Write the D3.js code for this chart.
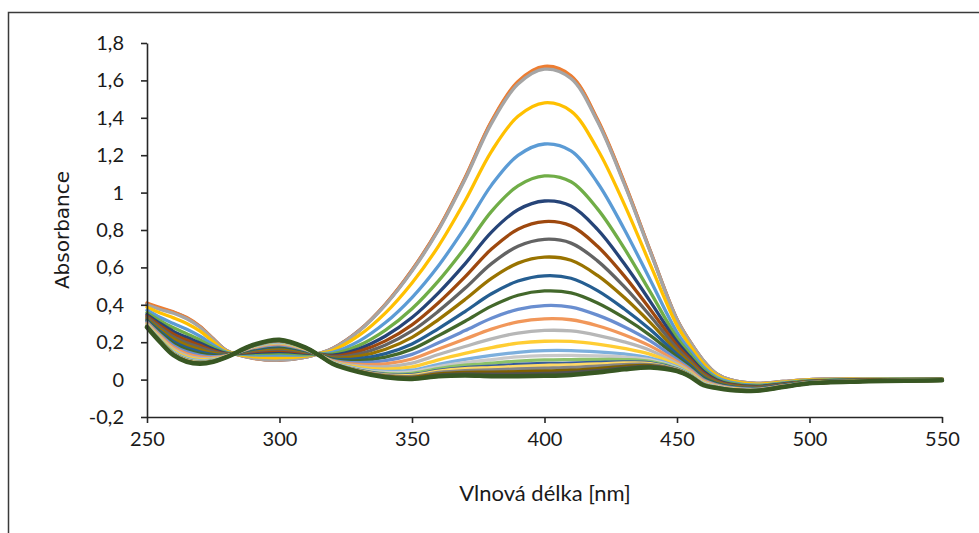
<!DOCTYPE html>
<html><head><meta charset="utf-8">
<script src="https://cdn.jsdelivr.net/npm/d3@7/dist/d3.min.js"></script>
<style>body{margin:0;background:#fff}svg{display:block}</style>
</head><body>
<svg id="chart" width="979" height="533"></svg>
<script>
const wavelengths = [250,255,260,265,270,275,280,290,300,310,315,320,330,340,350,360,370,380,390,400,410,420,430,440,450,455,460,465,470,480,490,500,520,550];
const xTicks = [250,300,350,400,450,500,550];
const yTicks = [-0.2,0,0.2,0.4,0.6,0.8,1,1.2,1.4,1.6,1.8];
const yTickLabels = ["-0,2","0","0,2","0,4","0,6","0,8","1","1,2","1,4","1,6","1,8"];
const xTitle = "Vlnová délka [nm]";
const yTitle = "Absorbance";

const s01 = [0.405,0.38,0.36,0.33,0.283,0.218,0.156,0.115,0.104,0.12,0.14,0.166,0.262,0.403,0.585,0.805,1.076,1.378,1.59,1.668,1.62,1.387,1.056,0.684,0.322,0.201,0.101,0.031,0.0,-0.02,-0.01,0.0,0.005,0.005];
const s02 = [0.41,0.385,0.362,0.332,0.285,0.219,0.155,0.114,0.104,0.12,0.14,0.166,0.262,0.404,0.586,0.808,1.08,1.383,1.595,1.675,1.625,1.392,1.06,0.686,0.323,0.202,0.101,0.031,0.0,-0.02,-0.01,0.0,0.005,0.005];
const s03 = [0.40,0.375,0.355,0.325,0.28,0.215,0.155,0.115,0.105,0.12,0.14,0.165,0.26,0.40,0.58,0.80,1.07,1.37,1.58,1.66,1.61,1.38,1.05,0.68,0.32,0.20,0.10,0.03,0.00,-0.02,-0.01,0.00,0.005,0.005];
const s04 = [0.387,0.356,0.330,0.300,0.259,0.202,0.151,0.123,0.117,0.126,0.139,0.156,0.236,0.357,0.517,0.714,0.955,1.221,1.408,1.480,1.436,1.232,0.941,0.612,0.290,0.180,0.086,0.022,-0.006,-0.024,-0.013,-0.002,0.003,0.004];
const s05 = [0.371,0.332,0.300,0.269,0.232,0.186,0.146,0.132,0.131,0.132,0.138,0.146,0.206,0.305,0.439,0.609,0.814,1.040,1.199,1.260,1.223,1.053,0.807,0.530,0.253,0.155,0.068,0.012,-0.013,-0.030,-0.017,-0.005,0.001,0.003];
const s06 = [0.358,0.314,0.277,0.245,0.212,0.173,0.143,0.139,0.142,0.137,0.137,0.137,0.183,0.265,0.379,0.528,0.705,0.900,1.036,1.089,1.058,0.913,0.704,0.466,0.224,0.136,0.055,0.004,-0.019,-0.034,-0.020,-0.007,0.000,0.002];
const s07 = [0.348,0.300,0.258,0.226,0.196,0.163,0.140,0.145,0.150,0.142,0.136,0.131,0.165,0.233,0.332,0.464,0.619,0.789,0.908,0.955,0.928,0.803,0.622,0.416,0.202,0.120,0.044,-0.002,-0.024,-0.037,-0.023,-0.009,-0.001,0.001];
const s08 = [0.340,0.288,0.243,0.211,0.183,0.155,0.138,0.150,0.157,0.145,0.135,0.125,0.151,0.207,0.293,0.411,0.549,0.698,0.804,0.845,0.822,0.713,0.556,0.374,0.183,0.108,0.035,-0.007,-0.027,-0.040,-0.025,-0.010,-0.003,0.001];
const s09 = [0.333,0.278,0.230,0.197,0.172,0.148,0.136,0.154,0.163,0.148,0.135,0.121,0.138,0.185,0.260,0.366,0.488,0.620,0.713,0.750,0.730,0.635,0.498,0.339,0.167,0.097,0.028,-0.012,-0.031,-0.042,-0.027,-0.011,-0.003,0.000];
const s10 = [0.326,0.268,0.217,0.184,0.161,0.141,0.134,0.158,0.169,0.151,0.134,0.116,0.125,0.162,0.226,0.321,0.428,0.541,0.623,0.655,0.638,0.557,0.440,0.303,0.151,0.087,0.020,-0.016,-0.034,-0.045,-0.028,-0.012,-0.004,0.000];
const s11 = [0.319,0.257,0.203,0.170,0.149,0.134,0.131,0.162,0.176,0.154,0.133,0.111,0.112,0.139,0.191,0.273,0.364,0.459,0.527,0.555,0.542,0.476,0.379,0.266,0.135,0.075,0.012,-0.021,-0.037,-0.047,-0.030,-0.014,-0.005,-0.001];
const s12 = [0.313,0.249,0.192,0.159,0.139,0.128,0.130,0.166,0.181,0.156,0.133,0.107,0.101,0.120,0.163,0.235,0.312,0.393,0.451,0.474,0.464,0.410,0.331,0.235,0.121,0.066,0.006,-0.024,-0.040,-0.049,-0.032,-0.014,-0.006,-0.002];
const s13 = [0.308,0.240,0.182,0.148,0.130,0.123,0.128,0.169,0.186,0.159,0.132,0.103,0.090,0.101,0.135,0.197,0.262,0.328,0.376,0.396,0.388,0.345,0.283,0.206,0.108,0.057,0.000,-0.028,-0.042,-0.051,-0.033,-0.015,-0.007,-0.002];
const s14 = [0.302,0.233,0.172,0.138,0.121,0.117,0.127,0.172,0.191,0.161,0.132,0.100,0.081,0.084,0.110,0.164,0.217,0.270,0.309,0.325,0.320,0.288,0.240,0.179,0.096,0.049,-0.006,-0.031,-0.045,-0.053,-0.034,-0.016,-0.007,-0.002];
const s15 = [0.298,0.226,0.163,0.129,0.114,0.113,0.125,0.175,0.195,0.163,0.132,0.097,0.073,0.069,0.088,0.134,0.177,0.218,0.249,0.263,0.260,0.237,0.202,0.156,0.086,0.042,-0.011,-0.034,-0.047,-0.054,-0.036,-0.017,-0.008,-0.003];
const s16 = [0.294,0.220,0.155,0.121,0.107,0.109,0.124,0.177,0.198,0.164,0.131,0.094,0.065,0.056,0.068,0.106,0.140,0.171,0.195,0.205,0.204,0.190,0.167,0.135,0.076,0.036,-0.015,-0.037,-0.049,-0.056,-0.037,-0.018,-0.008,-0.003];
const s17 = [0.290,0.214,0.149,0.114,0.101,0.105,0.123,0.179,0.201,0.166,0.131,0.092,0.058,0.044,0.050,0.082,0.108,0.129,0.146,0.155,0.155,0.148,0.137,0.115,0.068,0.030,-0.019,-0.039,-0.051,-0.057,-0.038,-0.018,-0.009,-0.003];
const s18 = [0.288,0.212,0.145,0.110,0.098,0.103,0.122,0.180,0.203,0.167,0.131,0.090,0.055,0.038,0.041,0.070,0.091,0.107,0.121,0.128,0.130,0.127,0.121,0.106,0.063,0.027,-0.021,-0.040,-0.051,-0.057,-0.038,-0.019,-0.009,-0.003];
const s19 = [0.286,0.209,0.142,0.107,0.095,0.101,0.122,0.181,0.205,0.167,0.131,0.089,0.051,0.032,0.033,0.059,0.077,0.088,0.099,0.105,0.107,0.108,0.107,0.097,0.059,0.025,-0.023,-0.041,-0.052,-0.058,-0.038,-0.019,-0.009,-0.004];
const s20 = [0.285,0.207,0.139,0.104,0.093,0.100,0.121,0.182,0.206,0.168,0.130,0.088,0.049,0.028,0.026,0.049,0.064,0.072,0.081,0.086,0.088,0.092,0.095,0.090,0.056,0.022,-0.025,-0.042,-0.053,-0.058,-0.039,-0.019,-0.009,-0.004];
const s21 = [0.284,0.206,0.138,0.103,0.092,0.099,0.121,0.183,0.206,0.168,0.130,0.088,0.047,0.025,0.023,0.045,0.058,0.064,0.071,0.076,0.079,0.084,0.089,0.086,0.054,0.021,-0.026,-0.042,-0.053,-0.059,-0.039,-0.019,-0.010,-0.004];
const s22 = [0.283,0.204,0.136,0.101,0.090,0.098,0.121,0.183,0.207,0.169,0.130,0.087,0.046,0.022,0.017,0.038,0.048,0.052,0.057,0.061,0.065,0.072,0.080,0.080,0.052,0.020,-0.027,-0.043,-0.054,-0.059,-0.039,-0.020,-0.010,-0.004];
const s23 = [0.282,0.203,0.134,0.099,0.088,0.097,0.121,0.184,0.208,0.169,0.130,0.086,0.044,0.018,0.012,0.031,0.039,0.040,0.043,0.046,0.050,0.059,0.071,0.075,0.049,0.018,-0.028,-0.044,-0.054,-0.059,-0.040,-0.020,-0.010,-0.004];
const s24 = [0.281,0.201,0.132,0.097,0.087,0.096,0.120,0.184,0.209,0.170,0.130,0.086,0.042,0.015,0.008,0.024,0.030,0.029,0.030,0.033,0.038,0.049,0.063,0.070,0.047,0.016,-0.029,-0.044,-0.055,-0.060,-0.040,-0.020,-0.010,-0.004];
const s25 = [0.280,0.200,0.130,0.095,0.085,0.095,0.120,0.185,0.213,0.170,0.130,0.085,0.040,0.012,0.003,0.018,0.022,0.018,0.018,0.020,0.025,0.038,0.055,0.065,0.045,0.015,-0.030,-0.045,-0.055,-0.060,-0.040,-0.020,-0.010,-0.004];

const seriesValues = [s01,s02,s03,s04,s05,s06,s07,s08,s09,s10,s11,s12,s13,s14,s15,s16,s17,s18,s19,s20,s21,s22,s23,s24,s25];
const seriesColors = ["#4472C4","#ED7D31","#A5A5A5","#FFC000","#5B9BD5","#70AD47","#264478","#9E480E","#636363","#997300","#255E91","#43682B","#698ED0","#F1975A","#B7B7B7","#FFCD33","#7CAFDD","#C9C9C9","#8CC168","#365B9D","#FFD966","#848484","#7F6000","#525252","#385723"];

const svg = d3.select("#chart");
const W = 979, H = 533;
svg.append("rect").attr("x",0).attr("y",0).attr("width",W).attr("height",H).attr("fill","#fff");
svg.append("rect").attr("x",8.5).attr("y",12.5).attr("width",1000).attr("height",600)
  .attr("fill","none").attr("stroke","#3a3a3a").attr("stroke-width",1.5);

const x = d3.scaleLinear().domain([250,550]).range([147,942]);
const y = d3.scaleLinear().domain([-0.2,1.8]).range([417,43]);

const line = d3.line().x((d,i)=>x(wavelengths[i])).y(d=>y(d)).curve(d3.curveCatmullRom.alpha(0.5));

const lines = svg.append("g").attr("fill","none").attr("stroke-linejoin","round").attr("stroke-linecap","round");
seriesValues.forEach((vals,k)=>{
  lines.append("path").attr("d", line(vals))
    .attr("stroke", seriesColors[k])
    .attr("stroke-width", k===seriesValues.length-1 ? 4.5 : 3.3);
});

const fmt = d => yTickLabels[yTicks.indexOf(d)];
const yAxis = svg.append("g").attr("transform","translate(147,0)")
  .call(d3.axisLeft(y).tickValues(yTicks).tickFormat(fmt).tickSize(6).tickSizeOuter(0).tickPadding(17));
const xAxis = svg.append("g").attr("transform","translate(0,417)")
  .call(d3.axisBottom(x).tickValues(xTicks).tickFormat(d=>String(d)).tickSize(6).tickSizeOuter(0).tickPadding(9));
[yAxis,xAxis].forEach(g=>{
  g.select(".domain").attr("stroke","#262626").attr("stroke-width",1.6);
  g.selectAll(".tick line").attr("stroke","#262626").attr("stroke-width",1.6);
  g.selectAll(".tick text").attr("fill","#1a1a1a").style("font-family","Lato, 'Open Sans', sans-serif").style("font-size","20px");
});

svg.append("text").attr("x",545).attr("y",501).attr("text-anchor","middle")
  .style("font-family","Lato, 'Open Sans', sans-serif").style("font-size","22px").attr("fill","#1a1a1a")
  .text(xTitle);
svg.append("text").attr("transform","translate(69,230) rotate(-90)").attr("text-anchor","middle")
  .style("font-family","'DejaVu Sans', Verdana, sans-serif").style("font-size","20px").attr("fill","#1a1a1a")
  .text(yTitle);
</script>
</body></html>
